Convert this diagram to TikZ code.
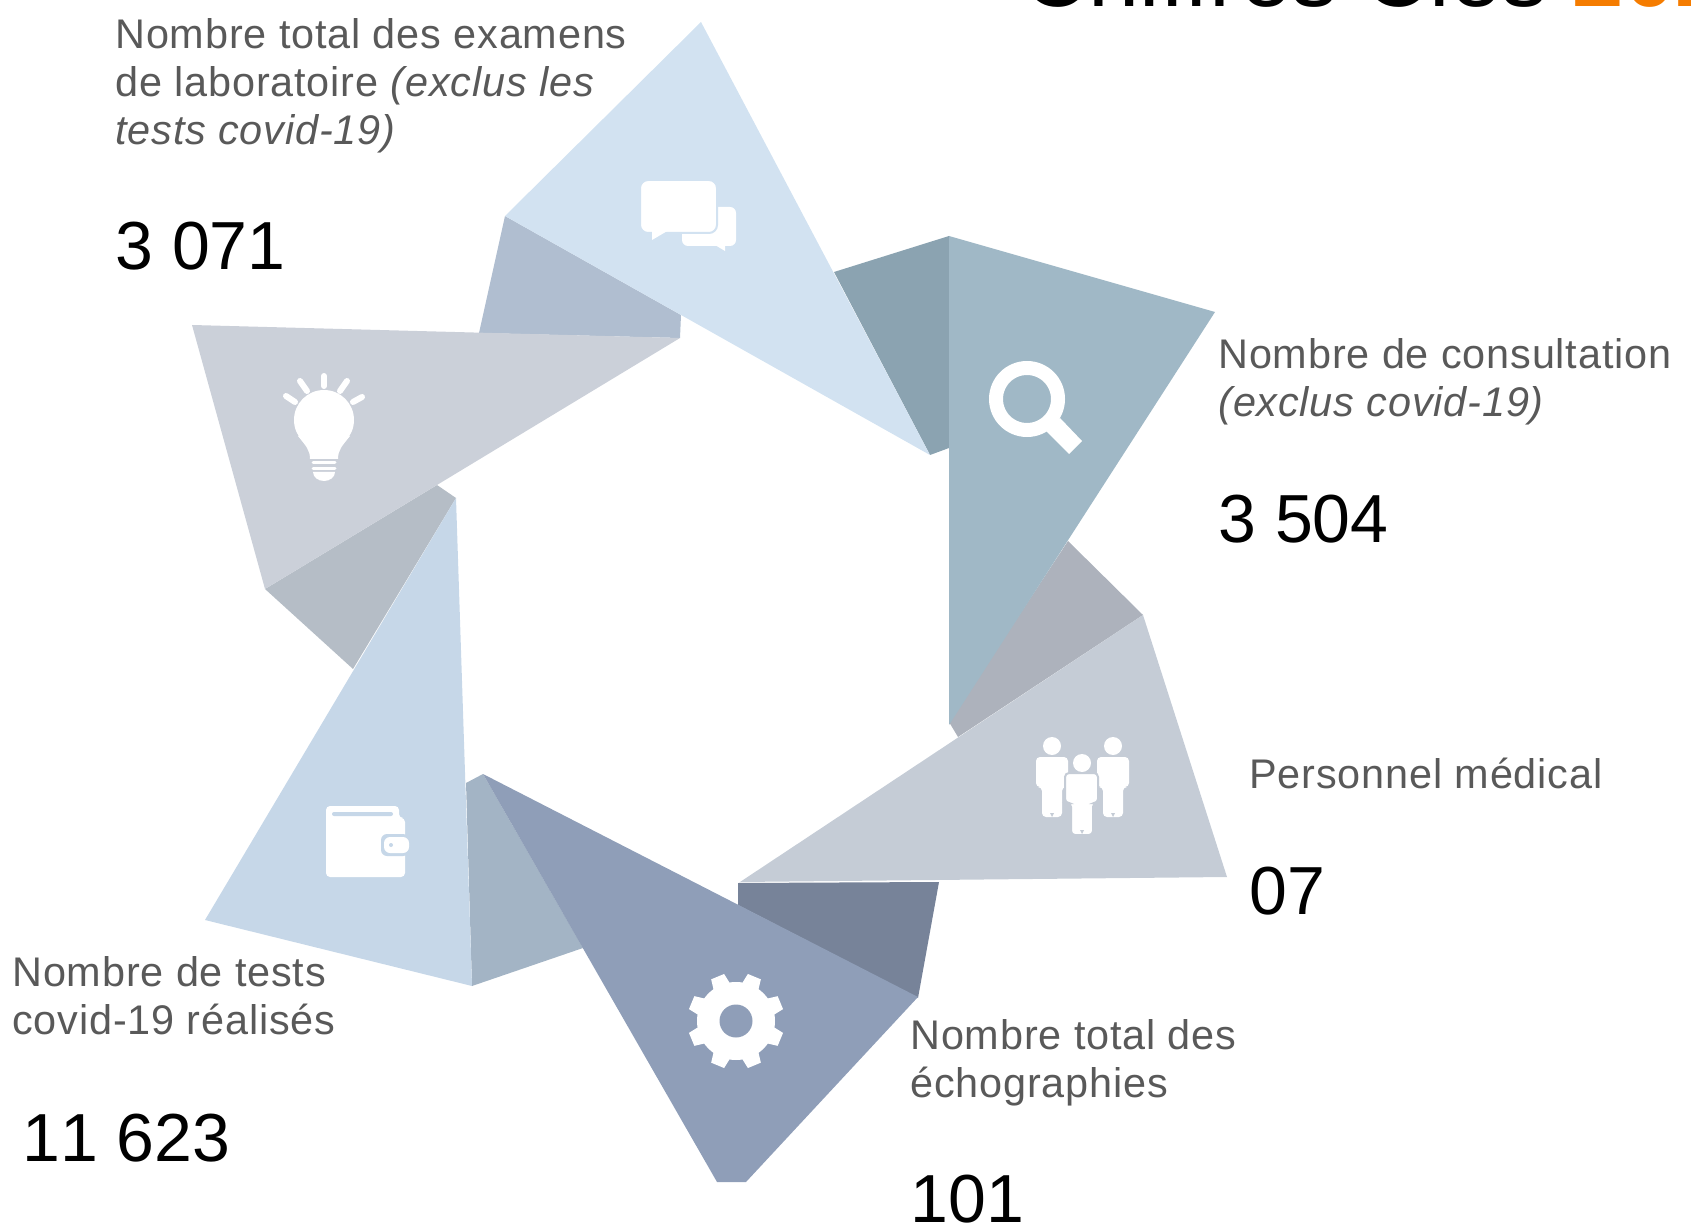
\documentclass[tikz,border=0pt]{standalone}
\usepackage{fontspec}
\setmainfont{Liberation Sans}
\newfontfamily\lblfont[LetterSpace=2]{Liberation Sans}
\newfontfamily\numfont[Kerning=Off]{Liberation Sans}
\definecolor{aMain}{HTML}{D2E2F1}\definecolor{aFold}{HTML}{B0BED0}
\definecolor{bMain}{HTML}{CBD0D9}\definecolor{bFold}{HTML}{B5BDC6}
\definecolor{cMain}{HTML}{C6D7E8}\definecolor{cFold}{HTML}{A3B4C5}
\definecolor{dMain}{HTML}{8F9EB8}\definecolor{dFold}{HTML}{778399}
\definecolor{eMain}{HTML}{C5CCD6}\definecolor{eFold}{HTML}{ADB2BC}
\definecolor{fMain}{HTML}{A0B8C6}\definecolor{fFold}{HTML}{8BA3B1}
\definecolor{lblgray}{HTML}{595959}\definecolor{titleorange}{HTML}{F57C00}
\newcommand{\twolines}[2]{\vtop{\baselineskip=24pt\hbox{#1}\hbox{#2}}}
\newcommand{\threelines}[3]{\vtop{\baselineskip=24pt\hbox{#1}\hbox{#2}\hbox{#3}}}
\tikzset{
  lbl/.style={anchor=base west,inner sep=0pt,text=lblgray,font=\lblfont\fontsize{20.7}{24}\selectfont},
  num/.style={anchor=base west,inner sep=0pt,text=black,font=\numfont\fontsize{34}{38}\selectfont},
  ttl/.style={anchor=base west,inner sep=0pt,text=black,font=\fontsize{46}{50}\selectfont},
}
\begin{document}
\begin{tikzpicture}[x=0.5pt,y=-0.5pt]
\useasboundingbox (0,0) rectangle (1691,1224);
\clip (0,0) rectangle (1691,1224);
% folds
\fill[aFold] (505,216)--(479,333)--(680,338)--(681,315)--cycle;
\fill[bFold] (265,589)--(353,669)--(456,498)--(437,485)--cycle;
\fill[cFold] (466,783)--(483,774)--(583,948)--(472,986)--cycle;
\fill[dFold] (738,883)--(939,882)--(918,998)--(738,905)--cycle;
\fill[eFold] (1068,541)--(1143,615)--(958,737)--(949,722)--cycle;
\fill[fFold] (834,272)--(949,236)--(949,448)--(930,455)--cycle;
% main blades
\fill[aMain] (701,22)--(505,216)--(930,455)--cycle;
\fill[bMain] (192,325)--(680,338)--(265,589)--cycle;
\fill[cMain] (456,498)--(205,920)--(472,986)--cycle;
\fill[dMain] (483,774)--(918,997)--(746,1182)--(717,1182)--cycle;
\fill[eMain] (1143,615)--(1227,877)--(740,882)--cycle;
\fill[fMain] (949,236)--(1215,312)--(949,725)--cycle;
% chat icon
\fill[white,rounded corners=3pt] (682,207) rectangle (736,246);
\fill[white] (715,245)--(725,251)--(725,245)--cycle;
\filldraw[white,draw=aMain,line width=1pt,rounded corners=4pt] (640,180) rectangle (717,233);
\fill[white] (652,230)--(652,240)--(669,230)--cycle;
% bulb icon
\fill[white] (324,420) circle[radius=30];
\fill[white] (298,436) .. controls (306,446) and (310,450) .. (310,459) -- (338,459) .. controls (338,450) and (342,446) .. (350,436) -- cycle;
\foreach \xa/\ya/\xb/\yb in {324/376/324/386,300/381/307/391,347/381/340/391,286/396/295/402,362/397/353/402}
  \draw[white,line width=3pt,line cap=round] (\xa,\ya)--(\xb,\yb);
\draw[white,line width=1.5pt,line cap=round] (313,463)--(335,463) (313,468.5)--(335,468.5);
\fill[white] (313,472) -- (335,472) .. controls (335,477) and (330,481) .. (324,481) .. controls (318,481) and (313,477) .. (313,472) -- cycle;
% wallet icon
\fill[white,rounded corners=2pt] (326,806)--(399,806)--(399,818)--(405,818)--(405,877)--(326,877)--cycle;
\fill[cMain,rounded corners=1pt] (332,812) rectangle (393,816);
\fill[cMain,rounded corners=3pt] (381,834) rectangle (409,856);
\fill[white,rounded corners=3pt] (384,837) rectangle (409,853);
\fill[cMain] (391,845) circle[radius=2];
% gear icon
\fill[white] (736,1021) circle[radius=39];
\foreach \a in {22.5,67.5,...,360}
  \fill[white,rotate around={\a:(736,1021)}] (729,1021) ++(-2,-36) -- ++(2,-12) -- ++(14,0) -- ++(2,12) -- cycle;
\fill[dMain] (736,1021) circle[radius=16.5];
% people icon
\fill[white] (1052,746) circle[radius=9] (1113,746) circle[radius=9];
\foreach \dx in {0,61}{
  \fill[white,rounded corners=2pt] (1036+\dx,757)--(1068+\dx,757)--(1068+\dx,787)--(1062+\dx,787)--(1062+\dx,817)--(1042+\dx,817)--(1042+\dx,787)--(1036+\dx,787)--cycle;
}
\filldraw[white,draw=eMain,line width=1pt,rounded corners=2pt] (1065,773)--(1098,773)--(1098,803)--(1093,803)--(1093,835)--(1071,835)--(1071,803)--(1065,803)--cycle;
\fill[white] (1082,763) circle[radius=9];
\fill[eMain] (1052,817)--(1050,813)--(1054,813)--cycle (1113,817)--(1111,813)--(1115,813)--cycle (1082,834)--(1080,830)--(1084,830)--cycle;
% magnifier icon
\draw[white,line width=7pt] (1027,399) circle[radius=31];
\fill[white] (1060,418)--(1082,441)--(1069,454)--(1046,431)--cycle;
% title
\node[ttl] (title) at (1022,7) {Chiffres Clés {\color{titleorange}\bfseries 202}};
% labels
\node[lbl] (labo) at (115,48.5) {\threelines{Nombre total des examens}{de laboratoire \textit{(exclus les}}{\textit{tests covid-19)}}};
\node[num] (labonum) at (115,270) {3 071};
\node[lbl] (consult) at (1218,369) {\twolines{Nombre de consultation}{\textit{(exclus covid-19)}}};
\node[num] (consultnum) at (1218,543) {3 504};
\node[lbl] (perso) at (1249,788) {Personnel médical};
\node[num] (persnum) at (1249,914) {07};
\node[lbl] (echo) at (910,1049) {\twolines{Nombre total des}{échographies}};
\node[num] (echonum) at (910,1222) {101};
\node[lbl] (tests) at (12,986) {\twolines{Nombre de tests}{covid-19 réalisés}};
\node[num] (testsnum) at (22,1161) {11 623};
\end{tikzpicture}
\end{document}
